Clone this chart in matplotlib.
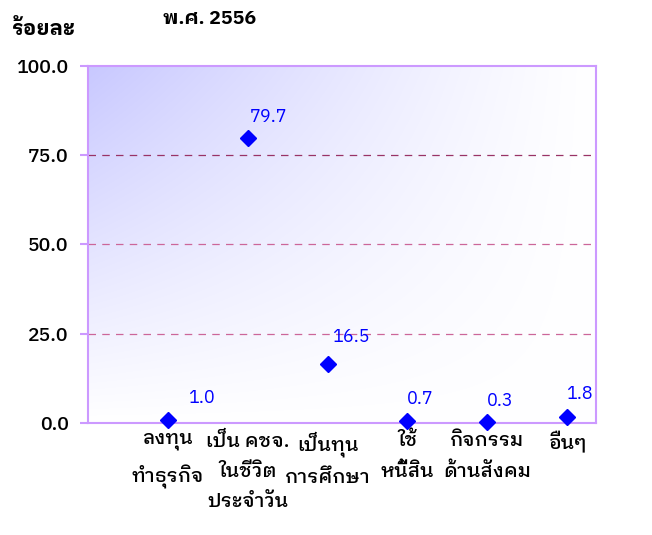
import numpy as np
import matplotlib
matplotlib.use("Agg")
import matplotlib.pyplot as plt

plt.rcParams['font.family'] = ['IBM Plex Sans Thai Looped', 'DejaVu Sans']

# data
categories = ["ลงทุน\nทำธุรกิจ", "เป็น คชจ.\nในชีวิต\nประจำวัน", "เป็นทุน\nการศึกษา",
              "ใช้\nหนี้สิน", "กิจกรรม\nด้านสังคม", "อื่นๆ"]
values = [1.0, 79.7, 16.5, 0.7, 0.3, 1.8]
y_ticks = [0, 25, 50, 75, 100]

# label offsets in points (style only)
label_dx = [24, 15, 17, 9, 9, 9]
label_dy = [9, 9, 13, 9, 9, 10]

fig = plt.figure(figsize=(6.52, 5.35), dpi=100)
ax = fig.add_axes([0.135, 0.209, 0.779, 0.668])

x = np.arange(1, len(values) + 1)
ax.set_xlim(0, 6.36)
ax.set_ylim(0, 100)

# gradient background: blue in the top-left corner fading to white
gx, gy = np.meshgrid(np.linspace(0, 1, 200), np.linspace(1, 0, 200))
w = np.clip((1 - gx) ** 1.2 * gy ** 1.0, 0, 1)
top = np.array([200, 200, 255]) / 255.0
img = 1 - (1 - top)[None, None, :] * w[:, :, None]
ax.imshow(img, extent=[0, 1, 0, 1], transform=ax.transAxes, aspect="auto",
          zorder=0, interpolation="bilinear")

for yv in y_ticks[1:4]:
    col = "#993366" if yv == 75 else "#cc6699"
    ax.axhline(yv, color=col, lw=0.9, ls=(0, (6, 5)), zorder=1)

ax.plot(x, values, ls="none", marker="D", ms=8, color="#0000ff", zorder=3, clip_on=False)
for xi, v, dx, dy in zip(x, values, label_dx, label_dy):
    ax.annotate(f"{v:.1f}", (xi, v), xytext=(dx, dy), textcoords="offset points",
                ha="center", va="bottom", color="#0000ff", fontsize=13)

for s in ax.spines.values():
    s.set_color("#cc99ff")
    s.set_linewidth(1.5)

ax.set_yticks(y_ticks)
ax.set_yticklabels([f"{t:.1f}" for t in y_ticks], fontsize=14, fontweight="medium")
ax.tick_params(axis="y", length=6, width=1.5, color="#cc99ff", pad=8)
ax.set_xticks(x)
ax.set_xticklabels(categories, fontsize=14, fontweight="medium", linespacing=1.85)
ax.tick_params(axis="x", length=0, pad=6)

fig.text(0.068, 0.946, "ร้อยละ", ha="center", va="center", fontsize=15, fontweight="bold")
fig.text(0.322, 0.964, "พ.ศ. 2556", ha="center", va="center", fontsize=14, fontweight="bold")

fig.savefig("out.png", dpi=100)
